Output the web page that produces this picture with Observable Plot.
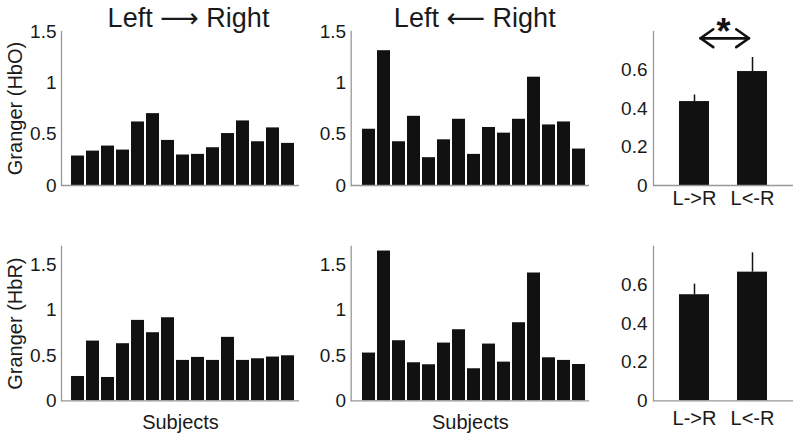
<!DOCTYPE html>
<html>
<head>
<meta charset="utf-8">
<script src="https://cdn.jsdelivr.net/npm/d3@7"></script>
<script src="https://cdn.jsdelivr.net/npm/@observablehq/plot@0.6"></script>
<style>
  html, body { margin: 0; padding: 0; background: #fff; }
  #chart { position: relative; width: 800px; height: 438px; overflow: hidden; background: #fff; }
  #chart > div { position: absolute; }
  svg { overflow: visible; }
</style>
</head>
<body>
<div id="chart"></div>
<script>
// ---- data ----
const subjects = [1, 2, 3, 4, 5, 6, 7, 8, 9, 10, 11, 12, 13, 14, 15];
const lrHbO = [0.287, 0.335, 0.384, 0.345, 0.619, 0.700, 0.439, 0.297, 0.303, 0.368, 0.506, 0.629, 0.426, 0.561, 0.410];
const rlHbO = [0.548, 1.313, 0.426, 0.674, 0.271, 0.445, 0.645, 0.303, 0.565, 0.510, 0.645, 1.055, 0.590, 0.619, 0.355];
const lrHbR = [0.268, 0.658, 0.257, 0.629, 0.886, 0.750, 0.915, 0.445, 0.478, 0.445, 0.699, 0.445, 0.463, 0.482, 0.496];
const rlHbR = [0.526, 1.650, 0.662, 0.419, 0.397, 0.636, 0.783, 0.353, 0.625, 0.426, 0.860, 1.408, 0.474, 0.445, 0.400];
const groups = ["L->R", "L<-R"];
const meanHbO = [0.436, 0.592];
const errHbO = [0.034, 0.073];
const meanHbR = [0.550, 0.667];
const errHbR = [0.055, 0.100];
const titles = ["Left \u27F6 Right", "Left \u27F5 Right"];
const yLabels = ["Granger (HbO)", "Granger (HbR)"];
const xLabel = "Subjects";
const ticksSubjHbO = [0, 0.5, 1, 1.5];
const ticksSubjHbR = [0, 0.5, 1, 1.5];
const ticksMean = [0, 0.2, 0.4, 0.6];
const sigMark = "*";
const sigPair = [{from: "L->R", to: "L<-R", y: 0.765}];

// ---- style ----
const FONT = "'Liberation Sans', Arial, Helvetica, 'DejaVu Sans', sans-serif";
const BAR = "#111";
const AXIS = "#999";
const TEXT = "#1a1a1a";
const fmt = d3.format("~g");

function place(node, left, top) {
  const d = document.createElement("div");
  d.style.left = left + "px";
  d.style.top = top + "px";
  d.appendChild(node);
  document.getElementById("chart").appendChild(d);
}

function subjectPanel({values, ymax, ticks, title, titleDx, ylabel, xlabel, width, mLeft, mRight, mTop, mBottom, height, barStart}) {
  const data = subjects.map((s, i) => ({subject: s, value: values[i]}));
  const frameRight = width - mRight;
  return Plot.plot({
    width, height,
    marginLeft: mLeft, marginRight: mRight, marginTop: mTop, marginBottom: mBottom,
    style: {fontFamily: FONT, fontSize: "19px", color: TEXT, background: "transparent", overflow: "visible"},
    x: {type: "band", domain: subjects, range: [barStart, frameRight - 0.8], paddingInner: 0.16, paddingOuter: 0.08, axis: null},
    y: {domain: [0, ymax], axis: null},
    marks: [
      Plot.barY(data, {x: "subject", y: "value", fill: BAR}),
      Plot.ruleY([0], {stroke: AXIS, strokeWidth: 1.3}),
      Plot.frame({anchor: "left", stroke: AXIS, strokeWidth: 1.3}),
      Plot.axisY(ticks, {tickSize: 0, tickPadding: 5, tickFormat: fmt, fontSize: 19, fill: TEXT, label: null}),
      title ? Plot.text([title], {frameAnchor: "top", textAnchor: "middle", dx: titleDx, dy: -4.3, lineAnchor: "bottom", fontSize: 27, fill: TEXT}) : null,
      ylabel ? Plot.text([ylabel], {frameAnchor: "left", textAnchor: "middle", rotate: -90, dx: -46, fontSize: 20, fill: TEXT, lineAnchor: "middle"}) : null,
      xlabel ? Plot.text([xlabel], {frameAnchor: "bottom", textAnchor: "middle", dy: 21.4, fontSize: 20, fill: TEXT, lineAnchor: "middle"}) : null
    ]
  });
}

function meanPanel({means, errs, height, mTop, mBottom, tickPad, sig}) {
  const data = groups.map((g, i) => ({group: g, mean: means[i], err: errs[i]}));
  return Plot.plot({
    width: 200, height,
    marginLeft: 53, marginRight: 7, marginTop: mTop, marginBottom: mBottom,
    style: {fontFamily: FONT, fontSize: "19px", color: TEXT, background: "transparent", overflow: "visible"},
    x: {type: "band", domain: groups, paddingInner: 0.49, paddingOuter: 0.444, axis: null},
    y: {domain: [0, 0.8], axis: null},
    marks: [
      Plot.barY(data, {x: "group", y: "mean", fill: BAR}),
      Plot.ruleX(data, {x: "group", y1: "mean", y2: d => d.mean + d.err, stroke: BAR, strokeWidth: 1.5}),
      Plot.ruleY([0], {stroke: AXIS, strokeWidth: 1.3}),
      Plot.frame({anchor: "left", stroke: AXIS, strokeWidth: 1.3}),
      Plot.axisY(ticksMean, {tickSize: 0, tickPadding: 6, tickFormat: fmt, fontSize: 19, fill: TEXT, label: null}),
      Plot.axisX({tickSize: 0, tickPadding: tickPad, fontSize: 20, fill: TEXT, label: null}),
      sig ? Plot.arrow(sigPair, {x1: "from", x2: "to", y1: "y", y2: "y", insetStart: 6, insetEnd: 3.5, headLength: 9, headAngle: 70, strokeWidth: 2.6, stroke: BAR}) : null,
      sig ? Plot.arrow(sigPair, {x1: "to", x2: "from", y1: "y", y2: "y", insetStart: 3.5, insetEnd: 6, headLength: 9, headAngle: 70, strokeWidth: 2.6, stroke: BAR}) : null,
      sig ? Plot.text([sigMark], {frameAnchor: "top", textAnchor: "middle", dy: 12, lineAnchor: "bottom", fontSize: 36, fontWeight: "bold", fill: BAR}) : null
    ]
  });
}

// Row 1 (HbO)
place(subjectPanel({values: lrHbO, ymax: 1.5, ticks: ticksSubjHbO, title: titles[0], titleDx: 8, ylabel: yLabels[0],
  width: 310, height: 219, mLeft: 61, mRight: 11, mTop: 31, mBottom: 34, barStart: 67.1}), 0, 0);
place(subjectPanel({values: rlHbO, ymax: 1.5, ticks: ticksSubjHbO, title: titles[1], titleDx: 4.4,
  width: 300, height: 219, mLeft: 50.7, mRight: 11, mTop: 31, mBottom: 34, barStart: 57.8}), 300, 0);
place(meanPanel({means: meanHbO, errs: errHbO, height: 219, mTop: 31, mBottom: 34, tickPad: 5, sig: true}), 600, 0);

// Row 2 (HbR)
place(subjectPanel({values: lrHbR, ymax: 1.7, ticks: ticksSubjHbR, ylabel: yLabels[1], xlabel: xLabel,
  width: 310, height: 219, mLeft: 61, mRight: 11, mTop: 27, mBottom: 37.7, barStart: 67.1}), 0, 219);
place(subjectPanel({values: rlHbR, ymax: 1.7, ticks: ticksSubjHbR, xlabel: xLabel,
  width: 300, height: 219, mLeft: 50.7, mRight: 11, mTop: 27, mBottom: 37.7, barStart: 57.8}), 300, 219);
place(meanPanel({means: meanHbR, errs: errHbR, height: 219, mTop: 27, mBottom: 37.7, tickPad: 9.5, sig: false}), 600, 219);
</script>
</body>
</html>
